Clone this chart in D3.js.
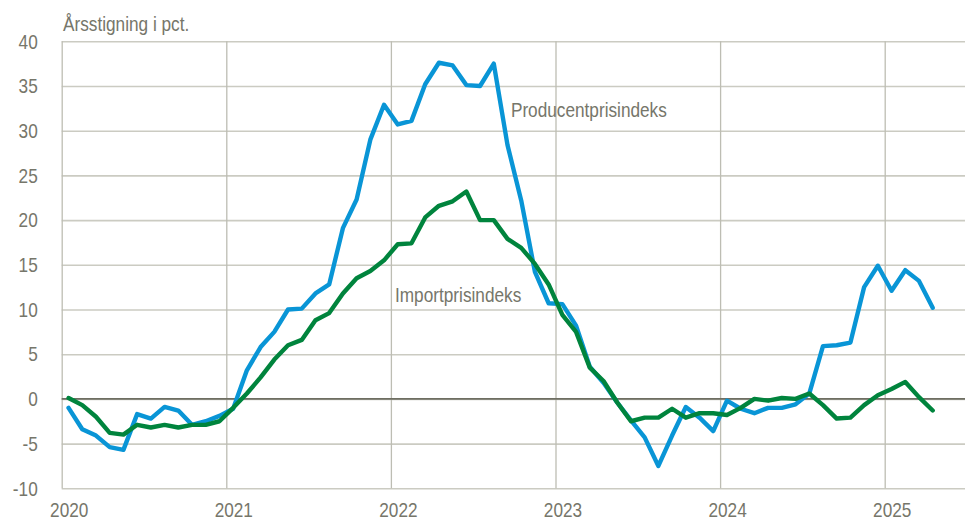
<!DOCTYPE html>
<html>
<head>
<meta charset="utf-8">
<script src="https://cdn.jsdelivr.net/npm/d3@7/dist/d3.min.js"></script>
<style>
  body { margin: 0; background: #fff; }
  svg { display: block; }
  svg text { font-family: "Liberation Sans", Arial, sans-serif; }
</style>
</head>
<body>
<script>
// data: monthly, Jan 2020 .. Apr 2025 (year-on-year, pct.)
const years = [2020, 2021, 2022, 2023, 2024, 2025];
const yTicks = [-10, -5, 0, 5, 10, 15, 20, 25, 30, 35, 40];

const producent = [
  -1.0, -3.4, -4.1, -5.4, -5.7, -1.7, -2.2, -0.9, -1.3, -2.9, -2.5, -1.9,
  -1.1, 3.2, 5.8, 7.5, 10.0, 10.1, 11.8, 12.8, 19.1, 22.3, 29.0, 32.9,
  30.7, 31.1, 35.2, 37.6, 37.3, 35.1, 35.0, 37.5, 28.4, 22.2, 14.2, 10.7,
  10.6, 8.2, 3.6, 1.8, -0.4, -2.4, -4.3, -7.5, -4.1, -0.9, -2.1, -3.6,
  -0.2, -1.1, -1.6, -1.0, -1.0, -0.6, 0.6, 5.9, 6.0, 6.3, 12.5, 14.9,
  12.1, 14.4, 13.2, 10.2
];
const import_ = [
  0.1, -0.7, -2.0, -3.8, -4.0, -2.9, -3.2, -2.9, -3.2, -2.9, -2.9, -2.5,
  -1.0, 0.6, 2.4, 4.4, 6.0, 6.6, 8.8, 9.6, 11.8, 13.5, 14.3, 15.5,
  17.3, 17.4, 20.3, 21.6, 22.1, 23.2, 20.0, 20.0, 17.9, 16.9, 15.1, 12.8,
  9.4, 7.5, 3.5, 2.0, -0.4, -2.5, -2.1, -2.1, -1.1, -2.1, -1.6, -1.6,
  -1.8, -1.0, 0.0, -0.2, 0.1, 0.0, 0.6, -0.7, -2.2, -2.1, -0.7, 0.4,
  1.1, 1.9, 0.2, -1.3
];

const series = [
  { name: "Producentprisindeks", values: producent, color: "#0995d6", label: [32.75, 31.5] },
  { name: "Importprisindeks", values: import_, color: "#00843d", label: [24.3, 10.8] }
];

const W = 965, H = 524;
const margin = { left: 61.7, top: 41.3 };
const textColor = "#76766a";
const fontSize = 21;
const squeeze = 0.82; // the reference font is a narrow sans

const svg = d3.select("body").append("svg").attr("width", W).attr("height", H);

const x = d3.scaleLinear().domain([0, 66]).range([margin.left, 967]);
const y = d3.scaleLinear().domain([-10, 40]).range([488.3, margin.top]);

// horizontal grid + y labels
const yAxis = svg.append("g")
  .attr("transform", `translate(${margin.left},0)`)
  .call(d3.axisLeft(y).tickValues(yTicks).tickFormat(d => String(d))
    .tickSize(-(W - margin.left)).tickPadding(24));
yAxis.select(".domain").remove();
yAxis.selectAll(".tick line").attr("stroke", "#cbcbc2").attr("stroke-width", 1.6);
yAxis.selectAll(".tick text")
  .attr("fill", textColor).attr("font-size", fontSize).attr("font-family", null);

// vertical year grid + x labels
const xAxis = svg.append("g")
  .attr("transform", `translate(0,${y(-10)})`)
  .call(d3.axisBottom(x).tickValues(years.map(d => (d - 2020) * 12))
    .tickSize(-(y(-10) - margin.top)).tickFormat((d, i) => years[i]).tickPadding(14));
xAxis.select(".domain").remove();
xAxis.selectAll(".tick line").attr("stroke", "#bdbdb3").attr("stroke-width", 1.3);
xAxis.selectAll(".tick text")
  .attr("fill", textColor).attr("font-size", fontSize).attr("x", 7).attr("font-family", null);

// zero line
svg.append("line")
  .attr("x1", margin.left).attr("x2", W)
  .attr("y1", y(0)).attr("y2", y(0))
  .attr("stroke", "#6e6e62").attr("stroke-width", 1.6);

// axis title
svg.append("text")
  .attr("x", 63).attr("y", 31)
  .attr("fill", textColor).attr("font-size", fontSize)
  .text("Årsstigning i pct.");

const line = d3.line()
  .x((d, i) => x(i + 0.5))
  .y(d => y(d));

svg.selectAll("path.series")
  .data(series)
  .enter().append("path")
  .attr("class", "series")
  .attr("d", d => line(d.values))
  .attr("fill", "none")
  .attr("stroke", d => d.color)
  .attr("stroke-width", 4.4)
  .attr("stroke-linejoin", "round")
  .attr("stroke-linecap", "round");

svg.selectAll("text.lbl")
  .data(series)
  .enter().append("text")
  .attr("class", "lbl")
  .attr("x", d => x(d.label[0]))
  .attr("y", d => y(d.label[1]))
  .attr("fill", textColor).attr("font-size", fontSize)
  .text(d => d.name);

// squeeze all text horizontally around its own anchor x
svg.selectAll("text").each(function () {
  const t = d3.select(this);
  const tx = +(t.attr("x") || 0);
  t.attr("x", tx / squeeze).attr("transform", `scale(${squeeze},1)`);
});
</script>
</body>
</html>
